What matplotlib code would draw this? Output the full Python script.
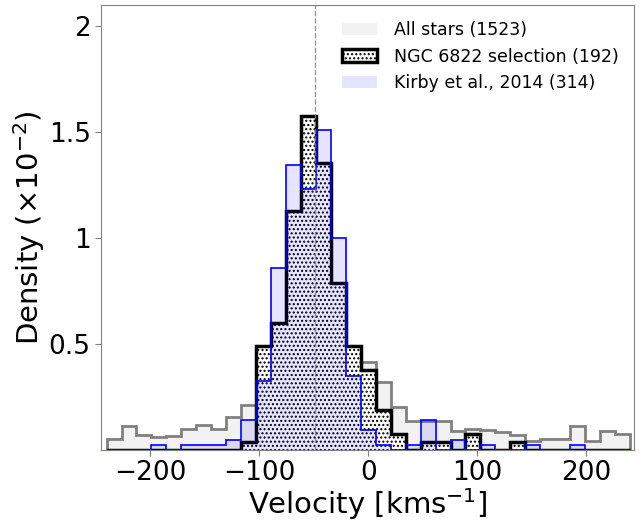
import numpy as np
import matplotlib.pyplot as plt

# velocity bins (km/s), 35 bins across the plotted range
edges = np.linspace(-240, 240, 36)

# star counts per bin
all_stars = [11, 24, 15, 13, 14, 21, 25, 21, 33, 44,
             60, 95, 140, 156, 150, 130, 96,
             87, 67, 42, 29, 29, 29, 19, 21, 20, 18, 15, 9, 11, 11, 24, 9, 19, 16]
ngc_sel = [0, 0, 0, 0, 0, 0, 0, 0, 0, 1,
           13, 16, 30, 42, 36, 21, 13,
           10, 5, 2, 0, 1, 1, 0, 2, 0, 0, 1, 0, 0, 0, 0, 0, 0, 0]
kirby = [0, 0, 0, 1, 0, 1, 1, 1, 2, 6,
         14, 37, 58, 53, 65, 43, 15,
         4, 1, 0, 1, 6, 0, 2, 0, 1, 0, 0, 1, 0, 0, 1, 0, 0, 0]

labels = ['All stars (1523)', 'NGC 6822 selection (192)', 'Kirby et al., 2014 (314)']
v_sys = -49

yticks = [0.5, 1, 1.5, 2]
yticklabels = ['0.5', '1', '1.5', '2']


def density(counts):
    c = np.asarray(counts, dtype=float)
    return c / (c.sum() * np.diff(edges)) * 100  # in units of 10^-2


fig, ax = plt.subplots(figsize=(6.44, 5.22), dpi=100)
fig.subplots_adjust(left=0.157, right=0.985, bottom=0.138, top=0.99)

d_all = density(all_stars)
d_ngc = density(ngc_sel)
d_kir = density(kirby)

ax.stairs(d_all, edges, fill=True, color='gray', alpha=0.1, lw=0, label=labels[0])
ax.stairs(d_all, edges, color='gray', lw=2)

ax.stairs(d_ngc, edges, fill=True, facecolor='white', edgecolor='black',
          hatch='....', lw=2.5, label=labels[1])

ax.stairs(d_kir, edges, fill=True, color='blue', alpha=0.1, lw=0, label=labels[2])
ax.stairs(d_kir, edges, color='blue', lw=1.2)

ax.axvline(v_sys, color='gray', ls='--', lw=1, alpha=0.8)

ax.set_xlim(-245, 244)
ax.set_ylim(0, 2.1)
ax.set_yticks(yticks)
ax.set_yticklabels(yticklabels)

ax.set_xlabel(r'Velocity [kms$^{-1}$]', fontsize=21, labelpad=0)
ax.set_ylabel(r'Density ($\times10^{-2}$)', fontsize=21, labelpad=1)
ax.tick_params(labelsize=19, color='gray', length=4)
for sp in ax.spines.values():
    sp.set_edgecolor('gray')

ax.legend(loc='upper right', frameon=False, fontsize=12.5, handletextpad=1.0)

fig.savefig('out.png', dpi=100)
